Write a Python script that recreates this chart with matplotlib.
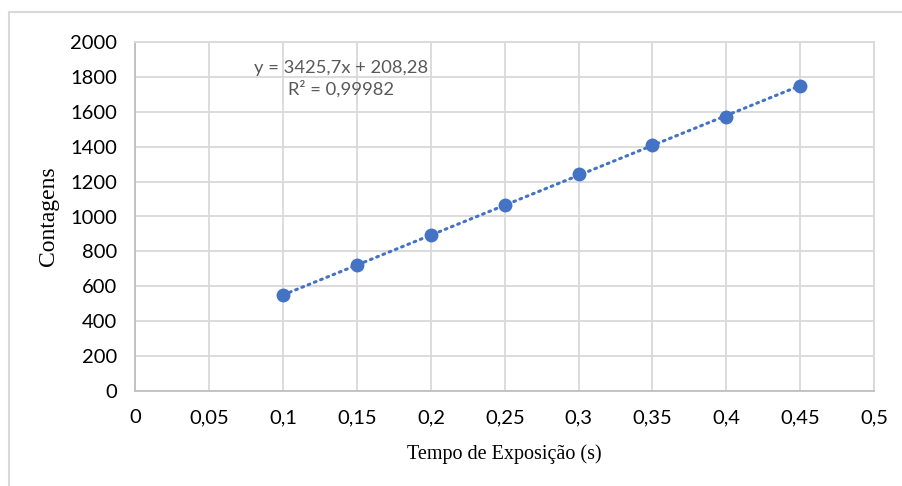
import matplotlib
matplotlib.use("Agg")
import matplotlib.pyplot as plt
from matplotlib.patches import Rectangle
from matplotlib.ticker import FuncFormatter, MultipleLocator

# Exposure time (s) and measured counts
tempo = [0.10, 0.15, 0.20, 0.25, 0.30, 0.35, 0.40, 0.45]
contagens = [553, 722, 895, 1068, 1245, 1410, 1570, 1750]

# Linear trendline coefficients
slope = 3425.7
intercept = 208.28
r2 = 0.99982

W, H = 903, 486
fig = plt.figure(figsize=(W / 100, H / 100), dpi=100)
fig.patch.set_facecolor("white")

# outer chart frame
fig.patches.append(Rectangle((9 / W, -0.05), 1.1, 1 - 12 / H + 0.05,
                             transform=fig.transFigure, fill=False,
                             edgecolor="#d9d9d9", linewidth=1.5))

ax = fig.add_axes([135.5 / W, 95 / H, (874 - 135.5) / W, (391 - 42) / H])

blue = "#4472C4"
x0, x1 = min(tempo), max(tempo)
ax.plot([x0, x1], [slope * x0 + intercept, slope * x1 + intercept],
        linestyle=(0, (0.6, 1.6)), color=blue, linewidth=2.2,
        dash_capstyle="round", zorder=3)
ax.plot(tempo, contagens, "o", color=blue, markersize=10, zorder=4,
        markeredgewidth=0)

ax.set_xlim(0, 0.5)
ax.set_ylim(0, 2000)
ax.xaxis.set_major_locator(MultipleLocator(0.05))
ax.yaxis.set_major_locator(MultipleLocator(200))

def fmt_x(v, pos):
    s = f"{v:.2f}".rstrip("0").rstrip(".")
    return s.replace(".", ",")

ax.xaxis.set_major_formatter(FuncFormatter(fmt_x))
ax.grid(True, color="#d9d9d9", linewidth=1.3)
ax.set_axisbelow(True)
for side in ("top", "right"):
    ax.spines[side].set_color("#d9d9d9")
    ax.spines[side].set_linewidth(1.3)
for side in ("left", "bottom"):
    ax.spines[side].set_color("#bfbfbf")
    ax.spines[side].set_linewidth(1.3)
ax.tick_params(length=0, labelsize=14.5, labelcolor="black")
ax.tick_params(axis="y", pad=13)
ax.tick_params(axis="x", pad=13)
for lab in ax.get_xticklabels() + ax.get_yticklabels():
    lab.set_family("Lato")

ax.set_xlabel("Tempo de Exposição (s)", family="Liberation Serif",
              fontsize=14.5, labelpad=13)
ax.set_ylabel("Contagens", family="Liberation Serif", fontsize=17,
              labelpad=8)

eq = f"y = {slope:.1f}x + {intercept:.2f}".replace(".", ",")
rt = f"R² = {r2:.5f}".replace(".", ",")
ax.text(0.139, 1790, eq + "\n" + rt, ha="center", va="center",
        family="Lato", fontsize=13.2, color="#595959", linespacing=1.3)

fig.savefig("out.png", dpi=100)
